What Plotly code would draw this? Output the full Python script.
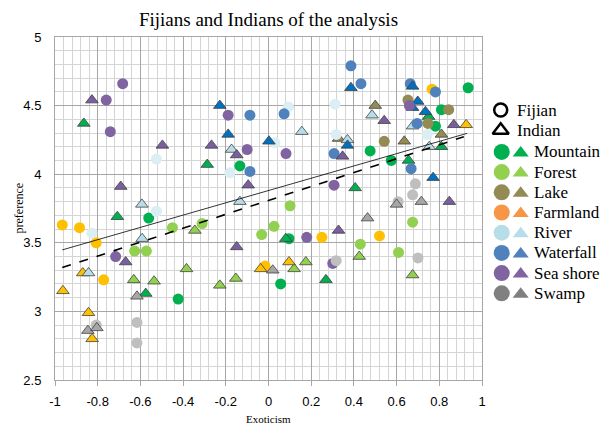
import plotly.graph_objects as go
import numpy as np

# ---------------- data ----------------
categories = ["Mountain", "Forest", "Lake", "Farmland", "River", "Waterfall", "Sea shore", "Swamp"]

mountain_fij_x = [-0.561, -0.423, -0.134, 0.096, 0.057, 0.476, 0.575, 0.782, 0.810, 0.935]
mountain_fij_y = [3.68, 3.09, 4.06, 3.53, 3.20, 4.17, 4.10, 4.35, 4.47, 4.63]
mountain_ind_x = [-0.865, -0.708, -0.575, -0.287, 0.081, 0.269, 0.406, 0.656, 0.750, 0.810]
mountain_ind_y = [4.37, 3.69, 3.13, 4.07, 3.53, 3.23, 3.90, 4.10, 4.42, 4.20]

forest_fij_x = [-0.450, -0.311, -0.627, -0.572, -0.032, 0.026, 0.101, 0.430, 0.609, 0.675]
forest_fij_y = [3.61, 3.64, 3.44, 3.44, 3.56, 3.62, 3.77, 3.49, 3.43, 3.65]
forest_ind_x = [-0.345, -0.384, -0.631, -0.536, -0.228, -0.153, 0.120, 0.175, 0.425, 0.675]
forest_ind_y = [3.59, 3.31, 3.23, 3.22, 3.19, 3.24, 3.31, 3.36, 3.40, 3.265]

lake_fij_x = [0.542, 0.653, 0.747, 0.844]
lake_fij_y = [4.24, 4.54, 4.37, 4.47]
lake_ind_x = [0.328, 0.500, 0.636, 0.810]
lake_ind_y = [4.26, 4.50, 4.24, 4.29]

farmland_fij_x = [-0.966, -0.885, -0.807, -0.772, -0.016, 0.250, 0.520, 0.766]
farmland_fij_y = [3.63, 3.61, 3.50, 3.23, 3.33, 3.54, 3.55, 4.62]
farmland_ind_x = [-0.963, -0.870, -0.843, -0.826, -0.037, 0.096, 0.926]
farmland_ind_y = [3.15, 3.28, 2.99, 2.80, 3.31, 3.36, 4.36]

river_fij_x = [-0.525, -0.525, -0.827, -0.181, 0.030, 0.093, 0.312, 0.317, 0.743]
river_fij_y = [4.11, 3.73, 3.57, 4.01, 4.23, 4.49, 4.51, 4.29, 4.29]
river_ind_x = [-0.593, -0.592, -0.843, -0.173, -0.134, 0.156, 0.370, 0.485, 0.675, 0.753]
river_ind_y = [3.78, 3.53, 3.28, 4.18, 3.80, 4.31, 4.25, 4.43, 4.35, 4.20]

waterfall_fij_x = [-0.087, 0.073, -0.087, 0.307, 0.386, 0.433, 0.664, 0.782, 0.696, 0.668]
waterfall_fij_y = [4.43, 4.44, 4.02, 4.15, 4.79, 4.66, 4.66, 4.60, 4.37, 4.04]
waterfall_ind_x = [-0.228, -0.189, 0.002, 0.370, 0.386, 0.675, 0.699, 0.675, 0.735, 0.771]
waterfall_ind_y = [4.50, 4.29, 4.24, 4.21, 4.63, 4.64, 4.53, 4.485, 4.455, 3.975]

seashore_fij_x = [-0.683, -0.760, -0.741, -0.716, -0.189, -0.100, 0.082, 0.307, 0.179, 0.301, 0.660]
seashore_fij_y = [4.66, 4.54, 4.31, 3.40, 4.43, 4.18, 4.15, 3.92, 3.54, 3.35, 4.50]
seashore_ind_x = [-0.827, -0.497, -0.692, -0.669, -0.267, -0.149, -0.095, -0.149, 0.328, 0.347, 0.542, 0.847, 0.868]
seashore_ind_y = [4.54, 4.21, 3.91, 3.36, 4.21, 4.14, 3.92, 3.47, 3.59, 4.13, 4.39, 3.80, 4.36]

swamp_fij_x = [-0.616, -0.616, -0.807, 0.317, 0.688, 0.675, 0.607, 0.700]
swamp_fij_y = [2.92, 2.77, 2.90, 3.37, 3.93, 3.85, 3.80, 3.39]
swamp_ind_x = [-0.616, -0.846, -0.804, 0.020, 0.464, 0.600, 0.716]
swamp_ind_y = [3.11, 2.86, 2.88, 3.30, 3.68, 3.78, 3.80]

# trend lines (slope, intercept, x start, x end)
trend_solid = [0.448, 3.881, -0.966, 0.930]
trend_dashed = [0.507, 3.809, -0.966, 0.915]

x_tick_vals = [-1, -0.8, -0.6, -0.4, -0.2, 0, 0.2, 0.4, 0.6, 0.8, 1]
x_tick_labels = ["-1", "-0.8", "-0.6", "-0.4", "-0.2", "0", "0.2", "0.4", "0.6", "0.8", "1"]

fij_data = {
    "Mountain": (mountain_fij_x, mountain_fij_y), "Forest": (forest_fij_x, forest_fij_y),
    "Lake": (lake_fij_x, lake_fij_y), "Farmland": (farmland_fij_x, farmland_fij_y),
    "River": (river_fij_x, river_fij_y), "Waterfall": (waterfall_fij_x, waterfall_fij_y),
    "Sea shore": (seashore_fij_x, seashore_fij_y), "Swamp": (swamp_fij_x, swamp_fij_y),
}
ind_data = {
    "Mountain": (mountain_ind_x, mountain_ind_y), "Forest": (forest_ind_x, forest_ind_y),
    "Lake": (lake_ind_x, lake_ind_y), "Farmland": (farmland_ind_x, farmland_ind_y),
    "River": (river_ind_x, river_ind_y), "Waterfall": (waterfall_ind_x, waterfall_ind_y),
    "Sea shore": (seashore_ind_x, seashore_ind_y), "Swamp": (swamp_ind_x, swamp_ind_y),
}

# ---------------- styles ----------------
fij_colors = {"Mountain": "#00B050", "Forest": "#92D050", "Lake": "#948A54", "Farmland": "#FFC000",
              "River": "#DAEEF3", "Waterfall": "#4F81BD", "Sea shore": "#8064A2", "Swamp": "#BFBFBF"}
ind_colors = {"Mountain": "#00B050", "Forest": "#92D050", "Lake": "#948A54", "Farmland": "#FFC000",
              "River": "#B7DEE8", "Waterfall": "#0070C0", "Sea shore": "#7B5EA0", "Swamp": "#A6A6A6"}
legend_colors = {"Mountain": "#00B050", "Forest": "#92D050", "Lake": "#948A54", "Farmland": "#F79646",
                 "River": "#B7DEE8", "Waterfall": "#4F81BD", "Sea shore": "#8064A2", "Swamp": "#808080"}

SERIF = "Liberation Serif, Times New Roman, serif"
SANS = "Liberation Sans, Arial, sans-serif"
MAJOR = "#A6A6A6"
MINOR = "#D4D4D4"

W, H = 603, 430
ML, MR, MT, MB = 55, 3, 37, 50
plot_right_px = 482
main_frac = (plot_right_px - ML) / (W - ML - MR)
plot_h = H - MT - MB

fig = go.Figure()

for cat in categories:
    fx, fy = fij_data[cat]
    fig.add_trace(go.Scatter(x=fx, y=fy, mode="markers", showlegend=False,
                             marker=dict(symbol="circle", size=11, color=fij_colors[cat],
                                         line=dict(width=0))))
    ix, iy = ind_data[cat]
    fig.add_trace(go.Scatter(x=ix, y=iy, mode="markers", showlegend=False,
                             marker=dict(symbol="triangle-up", size=11, color=ind_colors[cat],
                                         line=dict(width=0.8, color="#404040"))))

for (m, b, x0, x1), dash, w in [(trend_solid, "solid", 0.8), (trend_dashed, "dash", 1.6)]:
    xs = np.array([x0, x1])
    fig.add_trace(go.Scatter(x=xs, y=m * xs + b, mode="lines", showlegend=False,
                             line=dict(color="#000000", width=w, dash=dash)))

# ---------------- legend (drawn on a pixel-space overlay axis) ----------------
leg_y0 = 110
leg_step = 20.2
fig.add_trace(go.Scatter(x=[500.7], y=[leg_y0], xaxis="x2", yaxis="y2", mode="markers", showlegend=False,
                         marker=dict(symbol="circle-open", size=13, color="#000000", line=dict(width=2.5))))
fig.add_trace(go.Scatter(x=[500.7], y=[leg_y0 + leg_step], xaxis="x2", yaxis="y2", mode="markers",
                         showlegend=False,
                         marker=dict(symbol="triangle-up-open", size=14, color="#000000", line=dict(width=2.5))))
annotations = []
for i, lab in enumerate(["Fijian", "Indian"]):
    annotations.append(dict(x=515, y=leg_y0 + i * leg_step, xref="x2", yref="y2", text=lab, showarrow=False,
                            xanchor="left", yanchor="middle", font=dict(family=SERIF, size=17, color="#000")))
for i, cat in enumerate(categories):
    yy = leg_y0 + (i + 2) * leg_step + 1.5
    fig.add_trace(go.Scatter(x=[501.7], y=[yy], xaxis="x2", yaxis="y2", mode="markers", showlegend=False,
                             marker=dict(symbol="circle", size=16, color=legend_colors[cat])))
    fig.add_trace(go.Scatter(x=[520.7], y=[yy + 1], xaxis="x2", yaxis="y2", mode="markers", showlegend=False,
                             marker=dict(symbol="triangle-up", size=14, color=legend_colors[cat])))
    annotations.append(dict(x=531.5, y=yy, xref="x2", yref="y2", text=cat, showarrow=False,
                            xanchor="left", yanchor="middle", font=dict(family=SERIF, size=17, color="#000")))

# axis titles
annotations.append(dict(x=main_frac / 2, y=((H - MB) - 419) / plot_h,
                        xref="paper", yref="paper", text="Exoticism", showarrow=False,
                        xanchor="center", yanchor="middle", font=dict(family=SERIF, size=11, color="#000")))
annotations.append(dict(x=(18 - ML) / (W - ML - MR), y=0.5, xref="paper", yref="paper", text="preference",
                        showarrow=False, textangle=-90, xanchor="center", yanchor="middle",
                        font=dict(family=SERIF, size=12, color="#000")))

fig.update_layout(
    template="none",
    width=W, height=H,
    margin=dict(l=ML, r=MR, t=MT, b=MB, pad=0, autoexpand=False),
    paper_bgcolor="white", plot_bgcolor="white",
    title=dict(text="Fijians and Indians of the analysis", x=268.5 / W, xref="container", xanchor="center",
               y=1 - 19 / H, yref="container", yanchor="middle",
               font=dict(family=SERIF, size=19, color="#000")),
    xaxis=dict(domain=[0, main_frac], range=[-1, 1], tickmode="array", tickvals=x_tick_vals,
               ticktext=x_tick_labels, showgrid=True, gridcolor=MAJOR, gridwidth=1, zeroline=False,
               showline=True, linecolor=MAJOR, linewidth=1, mirror=True, automargin=False,
               ticks="outside", ticklen=5, tickcolor=MAJOR, ticklabelstandoff=4,
               tickfont=dict(family=SANS, size=13, color="#000"),
               minor=dict(tickmode="linear", tick0=-1, dtick=0.04, showgrid=True, gridcolor=MINOR,
                          gridwidth=1, ticks=""),
               fixedrange=True),
    yaxis=dict(range=[2.5, 5], tickmode="linear", tick0=2.5, dtick=0.5, showgrid=True, gridcolor=MAJOR,
               gridwidth=1, zeroline=False, showline=True, linecolor=MAJOR, linewidth=1, mirror=True,
               automargin=False, ticks="", ticklabelstandoff=10,
               tickfont=dict(family=SANS, size=13, color="#000"),
               minor=dict(tickmode="linear", tick0=2.5, dtick=0.1, showgrid=True, gridcolor=MINOR,
                          gridwidth=1, ticks=""),
               fixedrange=True),
    xaxis2=dict(domain=[main_frac, 1], range=[plot_right_px, W - MR], visible=False, fixedrange=True,
                automargin=False),
    yaxis2=dict(anchor="x2", domain=[0, 1], range=[H - MB, MT], visible=False, fixedrange=True,
                automargin=False),
    annotations=annotations,
)

fig.write_html("out.html", config={"displayModeBar": False},
               post_script="document.body.style.margin='0px';document.body.style.overflow='hidden';")
